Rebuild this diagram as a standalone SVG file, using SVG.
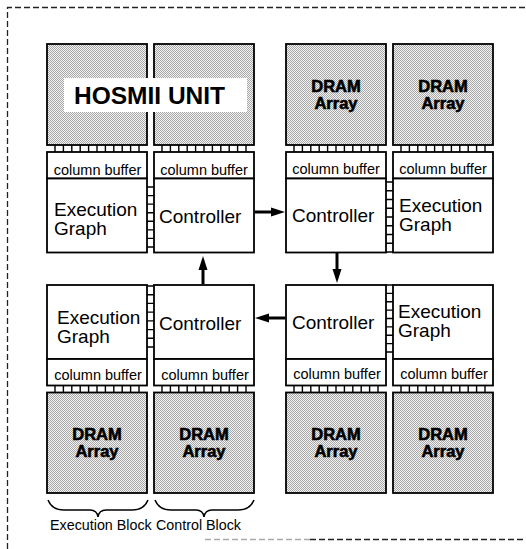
<svg xmlns="http://www.w3.org/2000/svg" xmlns:xlink="http://www.w3.org/1999/xlink" width="526" height="549" viewBox="0 0 526 549">
<style>
.box{fill:#fff;stroke:#000;stroke-width:1.8}
.dram{fill:url(#dots);stroke:#000;stroke-width:1.8}
.t{font-family:"Liberation Sans",Arial,Helvetica,sans-serif;fill:#000}
.cb{font-size:14.5px;text-anchor:middle}
.big{font-size:19px}
.dr{font-size:16.5px;font-weight:bold;text-anchor:middle;stroke:#000;stroke-width:0.6}
.bus{fill:none;stroke:#000;stroke-width:1.4}
.arrow{fill:none;stroke:#000;stroke-width:3;marker-end:url(#ah)}
.dash{fill:none;stroke:#222;stroke-width:1.3;stroke-dasharray:6 3}
.brace{fill:none;stroke:#000;stroke-width:1.5}
</style>
<defs>
<pattern id="dots" width="2" height="2" patternUnits="userSpaceOnUse">
<rect width="2" height="2" fill="#f2f2f2"/>
<rect width="1" height="1" fill="#a8a8a8"/>
<rect x="1" y="1" width="1" height="1" fill="#a8a8a8"/>
</pattern>
<path id="ticks" d="M8,0v7M16.4,0v7M24.8,0v7M33.2,0v7M41.6,0v7M50,0v7M58.4,0v7M66.8,0v7M75.2,0v7M83.6,0v7M92,0v7"/>
<marker id="ah" markerUnits="userSpaceOnUse" markerWidth="15" markerHeight="10" refX="4" refY="5" orient="auto">
<path d="M0,0.5 L14,5 L0,9.5z" fill="#000"/>
</marker>
</defs>
<rect width="526" height="549" fill="#fff"/>

<g id="frame">
<path class="dash" d="M7.5,549V7.5H526"/>
<path class="dash" d="M205,539.5H310" style="stroke:#aaa"/>
<path class="dash" d="M310,539.5H526"/>
</g>

<!-- Top-left execution block -->
<g id="dram-tl"><rect class="dram" x="47" y="44" width="100" height="101"/></g>
<g id="cbuf-tl"><rect class="box" x="47" y="152" width="100" height="26.5"/><text class="t cb" x="97.5" y="175">column buffer</text></g>
<g id="exec-tl"><rect class="box" x="47" y="178.5" width="100" height="74"/><text class="t big" x="54" y="216">Execution</text><text class="t big" x="54" y="235">Graph</text></g>

<!-- Top-left control block -->
<g id="dram-tc"><rect class="dram" x="154" y="44" width="100" height="101"/></g>
<g id="cbuf-tc"><rect class="box" x="154" y="152" width="100" height="26.5"/><text class="t cb" x="204" y="175">column buffer</text></g>
<g id="ctrl-tl"><rect class="box" x="154" y="178.5" width="100" height="74"/><text class="t big" x="159" y="223">Controller</text></g>

<g id="hosmii-label"><rect x="64" y="78" width="183" height="34" fill="#fff"/><text class="t" x="74" y="104" style="font-size:24.5px;font-weight:bold">HOSMII UNIT</text></g>

<!-- Top-right control block -->
<g id="dram-tr1"><rect class="dram" x="286" y="44" width="100" height="101"/><text class="t dr" x="336" y="92">DRAM</text><text class="t dr" x="336" y="109">Array</text></g>
<g id="cbuf-tr1"><rect class="box" x="286" y="152" width="100" height="26.5"/><text class="t cb" x="336" y="174">column buffer</text></g>
<g id="ctrl-tr"><rect class="box" x="286" y="178.5" width="100" height="74"/><text class="t big" x="292" y="222">Controller</text></g>

<!-- Top-right execution block -->
<g id="dram-tr2"><rect class="dram" x="393" y="44" width="100" height="101"/><text class="t dr" x="443" y="92">DRAM</text><text class="t dr" x="443" y="109">Array</text></g>
<g id="cbuf-tr2"><rect class="box" x="393" y="152" width="100" height="26.5"/><text class="t cb" x="443" y="174">column buffer</text></g>
<g id="exec-tr"><rect class="box" x="393" y="178.5" width="100" height="74"/><text class="t big" x="399" y="212">Execution</text><text class="t big" x="399" y="231">Graph</text></g>

<!-- Bottom-left execution block -->
<g id="exec-bl"><rect class="box" x="47" y="285" width="100" height="74"/><text class="t big" x="57" y="324">Execution</text><text class="t big" x="57" y="343">Graph</text></g>
<g id="cbuf-bl1"><rect class="box" x="47" y="359" width="100" height="26.5"/><text class="t cb" x="98" y="380">column buffer</text></g>
<g id="dram-bl1"><rect class="dram" x="47" y="392.5" width="100" height="100.5"/><text class="t dr" x="97" y="440">DRAM</text><text class="t dr" x="97" y="457">Array</text></g>

<!-- Bottom-left control block -->
<g id="ctrl-bl"><rect class="box" x="154" y="285" width="100" height="74"/><text class="t big" x="159" y="330">Controller</text></g>
<g id="cbuf-bl2"><rect class="box" x="154" y="359" width="100" height="26.5"/><text class="t cb" x="205" y="380">column buffer</text></g>
<g id="dram-bl2"><rect class="dram" x="154" y="392.5" width="100" height="100.5"/><text class="t dr" x="204" y="440">DRAM</text><text class="t dr" x="204" y="457">Array</text></g>

<!-- Bottom-right control block -->
<g id="ctrl-br"><rect class="box" x="286" y="285" width="100" height="74"/><text class="t big" x="292" y="329">Controller</text></g>
<g id="cbuf-br1"><rect class="box" x="286" y="359" width="100" height="26.5"/><text class="t cb" x="337" y="379">column buffer</text></g>
<g id="dram-br1"><rect class="dram" x="286" y="392.5" width="100" height="100.5"/><text class="t dr" x="336" y="440">DRAM</text><text class="t dr" x="336" y="457">Array</text></g>

<!-- Bottom-right execution block -->
<g id="exec-br"><rect class="box" x="393" y="285" width="100" height="74"/><text class="t big" x="398" y="318">Execution</text><text class="t big" x="398" y="337">Graph</text></g>
<g id="cbuf-br2"><rect class="box" x="393" y="359" width="100" height="26.5"/><text class="t cb" x="444" y="379">column buffer</text></g>
<g id="dram-br2"><rect class="dram" x="393" y="392.5" width="100" height="100.5"/><text class="t dr" x="443" y="440">DRAM</text><text class="t dr" x="443" y="457">Array</text></g>

<g id="braces">
<path class="brace" d="M48,500 Q52,510 64,510 L90,510 Q97,510 98,517 Q99,510 106,510 L132,510 Q144,510 148,500"/>
<path class="brace" d="M155,500 Q159,510 171,510 L196,510 Q203,510 204,517 Q205,510 212,510 L238,510 Q250,510 254,500"/>
<text class="t" x="50" y="530" style="font-size:14.3px">Execution Block</text>
<text class="t" x="156" y="530" style="font-size:14.3px">Control Block</text>
</g>

<g id="connectors">
<g class="bus">
<use xlink:href="#ticks" x="47" y="145"/>
<use xlink:href="#ticks" x="154" y="145"/>
<use xlink:href="#ticks" x="286" y="145"/>
<use xlink:href="#ticks" x="393" y="145"/>
<use xlink:href="#ticks" x="47" y="385.5"/>
<use xlink:href="#ticks" x="154" y="385.5"/>
<use xlink:href="#ticks" x="286" y="385.5"/>
<use xlink:href="#ticks" x="393" y="385.5"/>
<path d="M147,187H154M147,195.6H154M147,204.1H154M147,212.7H154M147,221.3H154M147,229.9H154M147,238.4H154M147,247H154"/>
<path d="M386,182H393M386,190.75H393M386,199.5H393M386,208.25H393M386,217H393M386,225.75H393M386,234.5H393M386,243.25H393M386,252H393"/>
<path d="M147,286H154M147,294.7H154M147,303.4H154M147,312.1H154M147,320.9H154M147,329.6H154M147,338.3H154M147,347H154"/>
<path d="M386,285H393M386,293.4H393M386,301.75H393M386,310.1H393M386,318.5H393M386,326.9H393M386,335.25H393M386,343.6H393M386,352H393"/>
</g>
<path class="arrow" d="M255,212H275"/>
<path class="arrow" d="M337,253V273"/>
<path class="arrow" d="M285,318H265"/>
<path class="arrow" d="M203,284V266"/>
</g>
</svg>
